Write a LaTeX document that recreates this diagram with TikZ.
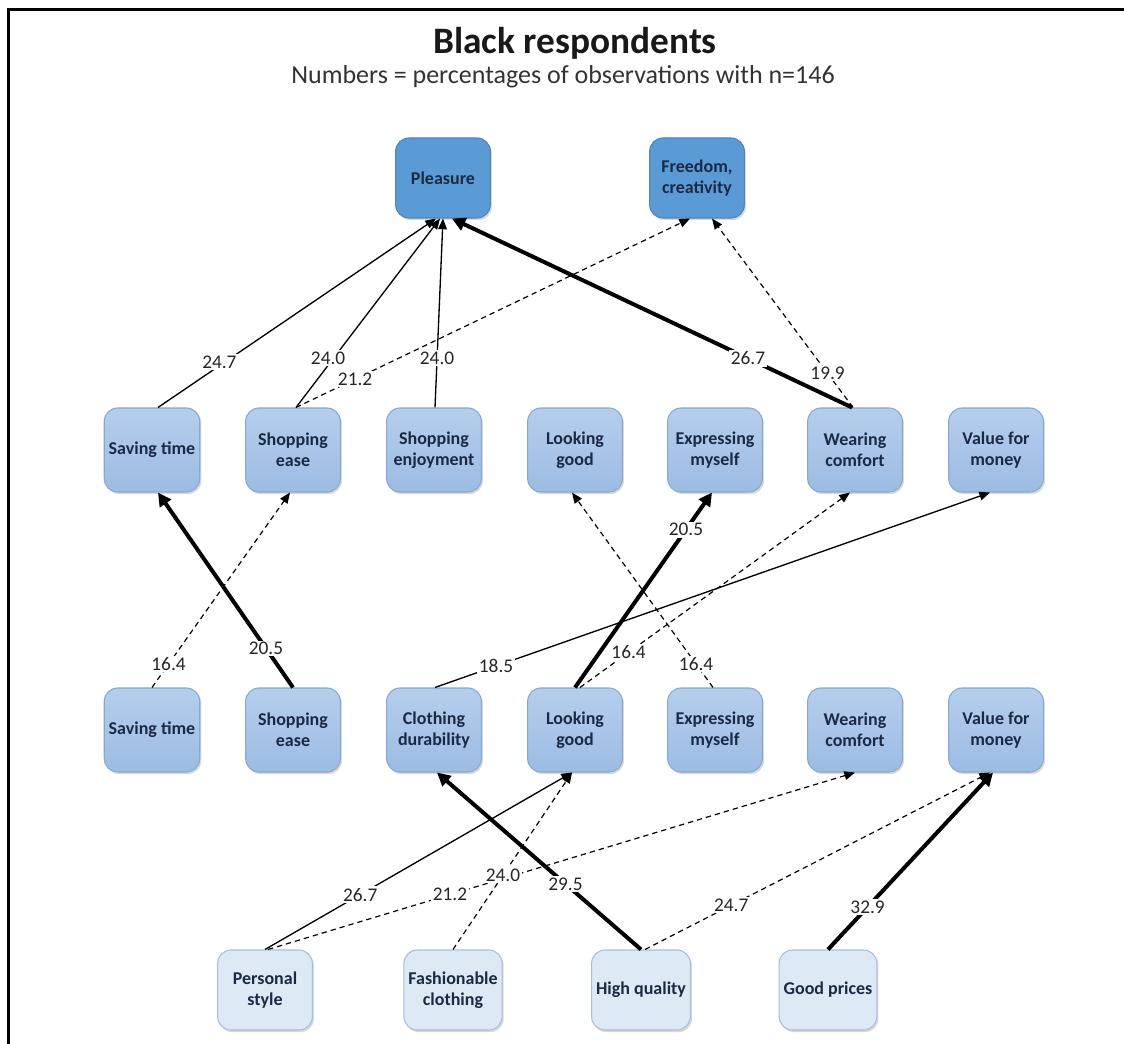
\documentclass[tikz,border=0pt]{standalone}
\usepackage{fontspec}
\setmainfont{Carlito}
\usetikzlibrary{arrows.meta,shadows,calc}

\definecolor{boxtext}{HTML}{1B2A44}
\definecolor{goalfill}{HTML}{5B9BD5}
\definecolor{goalline}{HTML}{4C84BC}
\definecolor{midtop}{HTML}{B6CEEC}
\definecolor{midbot}{HTML}{9CBCE3}
\definecolor{midline}{HTML}{86A9D3}
\definecolor{lowfill}{HTML}{DEE9F6}
\definecolor{lowline}{HTML}{A6BFDE}

\begin{document}
\begin{tikzpicture}[x=0.75pt,y=-0.75pt,
  box/.style={rounded corners=10pt, minimum width=71pt, align=center,
    font=\fontsize{13.5}{15.5}\selectfont\bfseries, text=boxtext, line width=0.8pt,
    drop shadow={shadow xshift=1.2pt, shadow yshift=-1.6pt, opacity=0.3}},
  goal/.style={box, fill=goalfill, draw=goalline, minimum height=60pt},
  mid/.style={box, top color=midtop, bottom color=midbot, draw=midline, minimum height=63pt},
  attr/.style={box, fill=lowfill, draw=lowline, minimum height=60pt},
  link/.style={line width=1pt, -{Triangle[length=8pt,width=6.5pt]}},
  strong/.style={line width=3pt, -{Triangle[length=10pt,width=10pt]}},
  weak/.style={line width=0.9pt, dash pattern=on 4pt off 3pt, -{Triangle[length=8pt,width=6.5pt]}},
  pct/.style={fill=white, inner sep=1.2pt, font=\fontsize{14.5}{16}\selectfont, text=black!85}
]
\useasboundingbox (0,0) rectangle (1124,1044);

% frame
\draw[line width=2.4pt] (1124,9.5) -- (8.5,9.5) -- (8.5,1044);

% titles
\node[font=\fontsize{28}{30}\selectfont\bfseries, text=black!90] (title) at (575,43) {Black respondents};
\node[font=\fontsize{19.5}{22}\selectfont, text=black!80] (subtitle) at (563,77) {Numbers = percentages of observations with n=146};

% values
\node[goal] (pl) at (443,178) {Pleasure};
\node[goal] (fr) at (697,178) {Freedom,\\creativity};

% consequences (upper)
\node[mid] (st2)  at (152,450) {Saving time};
\node[mid] (se2)  at (293,450) {Shopping\\ease};
\node[mid] (sen2) at (434,450) {Shopping\\enjoyment};
\node[mid] (lg2)  at (575,450) {Looking\\good};
\node[mid] (em2)  at (715,450) {Expressing\\myself};
\node[mid] (wc2)  at (855,450) {Wearing\\comfort};
\node[mid] (vm2)  at (996,450) {Value for\\money};

% consequences (lower)
\node[mid] (st3) at (152,730) {Saving time};
\node[mid] (se3) at (293,730) {Shopping\\ease};
\node[mid] (cd3) at (434,730) {Clothing\\durability};
\node[mid] (lg3) at (575,730) {Looking\\good};
\node[mid] (em3) at (715,730) {Expressing\\myself};
\node[mid] (wc3) at (855,730) {Wearing\\comfort};
\node[mid] (vm3) at (996,730) {Value for\\money};

% attributes
\node[attr] (ps) at (265,990) {Personal\\style};
\node[attr] (fc) at (453,990) {Fashionable\\clothing};
\node[attr] (hq) at (641,990) {High quality};
\node[attr] (gp) at (828,990) {Good prices};

% consequences -> values
\draw[link] ($(st2.north)+(6,0)$) -- node[pct,pos=0.24,xshift=-4pt]{24.7} ($(pl.south)+(-7,0)$);
\draw[link] ($(se2.north)+(3,0)$) -- node[pct,pos=0.26,xshift=-4pt]{24.0} ($(pl.south)+(-3,0)$);
\draw[link] ($(sen2.north)+(1,0)$) -- node[pct,pos=0.26]{24.0} (pl.south);
\draw[weak] ($(se2.north)+(3,0)$) -- node[pct,pos=0.15]{21.2} ($(fr.south)+(-7,0)$);
\draw[strong] ($(wc2.north)+(-3,0)$) -- node[pct,pos=0.26]{26.7} ($(pl.south)+(9,0)$);
\draw[weak] ($(wc2.north)+(-2,0)$) -- node[pct,pos=0.18]{19.9} ($(fr.south)+(15,0)$);

% lower consequences -> upper consequences
\draw[strong] (se3.north) -- node[pct,pos=0.2]{20.5} ($(st2.south)+(6,0)$);
\draw[weak] (st3.north) -- node[pct,pos=0.12]{16.4} ($(se2.south)+(-3,0)$);
\draw[link] ($(cd3.north)+(1,0)$) -- node[pct,pos=0.11]{18.5} ($(vm2.south)+(-6,0)$);
\draw[strong] (lg3.north) -- node[pct,pos=0.81]{20.5} ($(em2.south)+(-3,0)$);
\draw[weak] ($(lg3.north)+(5,0)$) -- node[pct,pos=0.18]{16.4} ($(wc2.south)+(-5,0)$);
\draw[weak] ($(em3.north)+(-2,0)$) -- node[pct,pos=0.12]{16.4} ($(lg2.south)+(-3,0)$);

% attributes -> consequences
\draw[link] (ps.north) -- node[pct,pos=0.31]{26.7} ($(lg3.south)+(-3,0)$);
\draw[weak] ($(ps.north)+(3,0)$) -- node[pct,pos=0.31]{21.2} (wc3.south);
\draw[weak] (fc.north) -- node[pct,pos=0.42]{24.0} ($(lg3.south)+(-3,0)$);
\draw[strong] (hq.north) -- node[pct,pos=0.37]{29.5} ($(cd3.south)+(3,0)$);
\draw[weak] ($(hq.north)+(4,0)$) -- node[pct,pos=0.25]{24.7} ($(vm3.south)+(-6,0)$);
\draw[strong] (gp.north) -- node[pct,pos=0.24]{32.9} ($(vm3.south)+(-3,0)$);
\end{tikzpicture}
\end{document}
